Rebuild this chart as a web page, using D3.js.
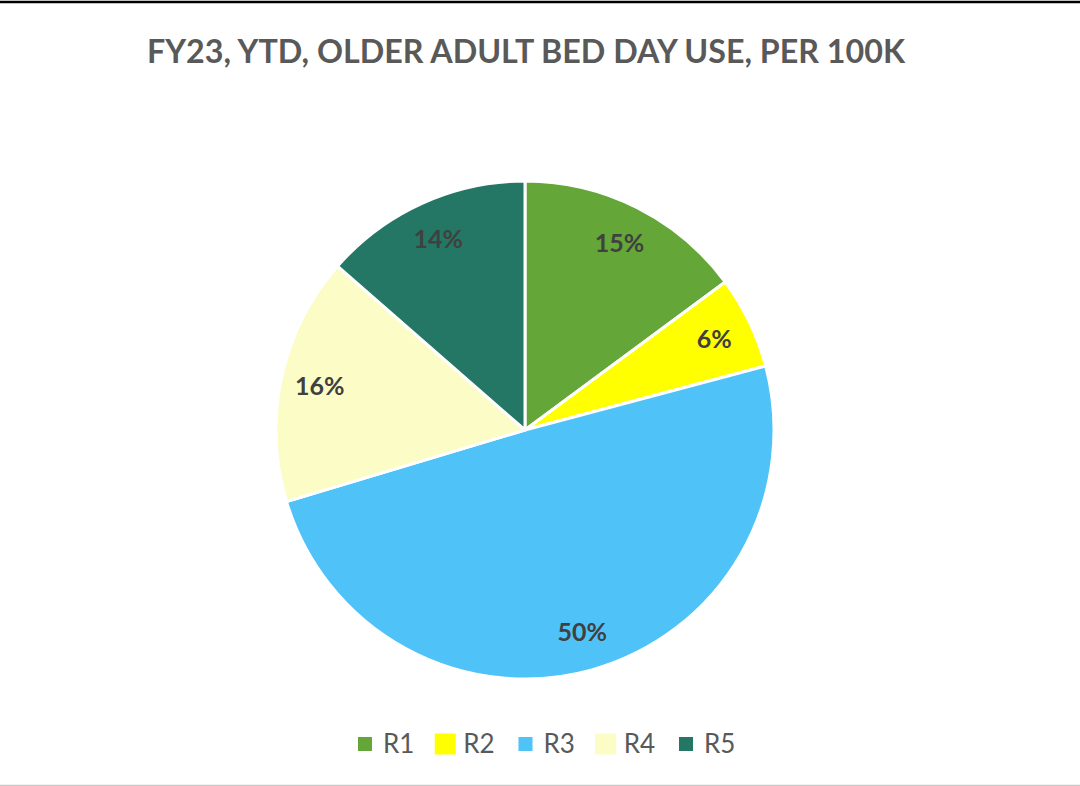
<!DOCTYPE html>
<html>
<head>
<meta charset="utf-8">
<script src="https://cdn.jsdelivr.net/npm/d3@7"></script>
<style>
  html, body { margin: 0; padding: 0; background: #fff; }
  svg { display: block; }
</style>
</head>
<body>
<svg id="chart" width="1080" height="786"></svg>
<script>
const title = "FY23, YTD, OLDER ADULT BED DAY USE, PER 100K";
const categories = ["R1", "R2", "R3", "R4", "R5"];
const values = [14.9, 6.0, 49.6, 16.1, 13.6];
const colors = ["#64A637", "#FFFF00", "#4FC3F7", "#FCFCC6", "#247764"];

const svg = d3.select("#chart");
const W = 1080, H = 786;

// frame lines
svg.append("rect").attr("x", 0).attr("y", 0).attr("width", W).attr("height", H).attr("fill", "#fff");
svg.append("line").attr("x1", 0).attr("x2", W).attr("y1", 2).attr("y2", 2)
  .attr("stroke", "#000").attr("stroke-width", 2.5);
svg.append("line").attr("x1", 0).attr("x2", W).attr("y1", 785.5).attr("y2", 785.5)
  .attr("stroke", "#c8c8c8").attr("stroke-width", 1.5);

// title
svg.append("text")
  .attr("x", 526).attr("y", 63)
  .attr("text-anchor", "middle")
  .attr("font-family", "Lato, 'Open Sans', sans-serif")
  .attr("font-weight", "bold")
  .attr("font-size", 32)
  .attr("fill", "#595959")
  .attr("textLength", 758)
  .attr("lengthAdjust", "spacingAndGlyphs")
  .text(title);

// pie
const cx = 525, cy = 430, R = 249;
const data = categories.map((c, i) => ({ cat: c, value: values[i], color: colors[i] }));
const total = d3.sum(values);
const pie = d3.pie().value(d => d.value).sort(null);
const arcs = pie(data);
const arc = d3.arc().innerRadius(0).outerRadius(R);
const labelArc = d3.arc().innerRadius(210).outerRadius(210);

const g = svg.append("g").attr("transform", `translate(${cx},${cy})`);
g.selectAll("path.slice").data(arcs).join("path")
  .attr("class", "slice")
  .attr("d", arc)
  .attr("fill", d => d.data.color)
  .attr("stroke", "#fff")
  .attr("stroke-width", 3)
  .attr("stroke-linejoin", "round");

g.selectAll("text.lbl").data(arcs).join("text")
  .attr("class", "lbl")
  .attr("transform", d => `translate(${labelArc.centroid(d)})`)
  .attr("text-anchor", "middle")
  .attr("dy", "0.36em")
  .attr("font-family", "Lato, 'Open Sans', sans-serif")
  .attr("font-weight", "bold")
  .attr("font-size", 25)
  .attr("fill", "#404040")
  .text(d => Math.round(d.data.value / total * 100) + "%");

// legend
const legendX = d3.scalePoint().domain(categories).range([365, 686]);
const lg = svg.append("g");
const items = lg.selectAll("g.item").data(data).join("g")
  .attr("class", "item")
  .attr("transform", d => `translate(${legendX(d.cat)},744)`);
items.append("rect")
  .attr("x", (d, i) => i % 2 ? -10.5 : -7)
  .attr("y", (d, i) => i % 2 ? -10.5 : -7)
  .attr("width", (d, i) => i % 2 ? 21 : 14)
  .attr("height", (d, i) => i % 2 ? 21 : 14)
  .attr("fill", d => d.color);
items.append("text")
  .attr("x", 18)
  .attr("y", 0)
  .attr("dy", "0.36em")
  .attr("font-family", "Lato, 'Open Sans', sans-serif")
  .attr("font-size", 26)
  .attr("fill", "#595959")
  .text(d => d.cat);
</script>
</body>
</html>
